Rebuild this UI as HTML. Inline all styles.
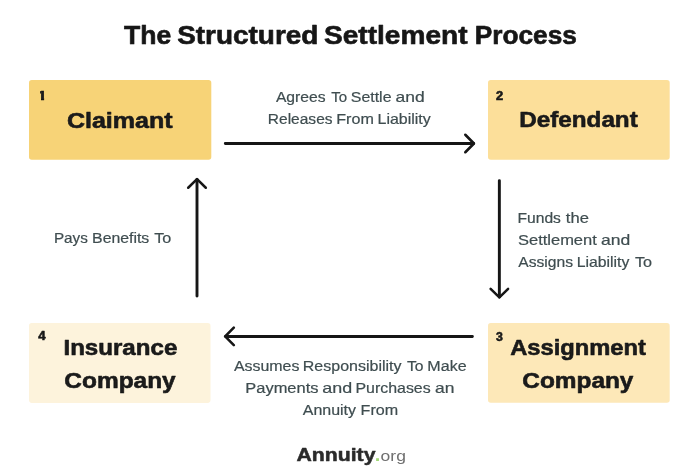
<!DOCTYPE html>
<html lang="en">
<head>
<meta charset="utf-8">
<title>The Structured Settlement Process</title>
<style>
  html, body { margin: 0; padding: 0; background: #ffffff; }
  body { width: 700px; height: 474px; overflow: hidden; }
  svg { display: block; will-change: transform; }
  text { font-family: "Liberation Sans", sans-serif; stroke-linejoin: round; }
  .title { font-weight: 700; fill: #161616; stroke: #161616; stroke-width: 0.6px; }
  .box { font-weight: 700; fill: #1a1a1a; stroke: #1a1a1a; stroke-width: 0.6px; }
  .num { font-weight: 700; fill: #1a1a1a; stroke: #1a1a1a; stroke-width: 0.6px; }
  .lbl { font-weight: 400; fill: #3f4d50; stroke: #3f4d50; stroke-width: 0.2px; }
  .logo { font-weight: 700; fill: #2b2b2b; stroke: #2b2b2b; stroke-width: 0.5px; }
  .org { font-weight: 400; fill: #6f6f6f; }
  .dot { font-weight: 700; fill: #a3d977; }
  .shaft { fill: none; stroke: #131313; stroke-width: 2.9; stroke-linecap: round; }
  .head { fill: none; stroke: #131313; stroke-width: 2.5; stroke-linecap: round; stroke-linejoin: round; }
</style>
</head>
<body>
<svg width="700" height="474" viewBox="0 0 700 474">
  <defs><filter id="soft" x="0" y="0" width="700" height="474" filterUnits="userSpaceOnUse"><feGaussianBlur stdDeviation="0.4"/></filter></defs>
  <rect width="700" height="474" fill="#ffffff"/>
  <g filter="url(#soft)">
  <!-- boxes -->
  <rect x="29" y="80" width="182.3" height="79.8" rx="2.8" fill="#f7d377"/>
  <rect x="488" y="80" width="181.7" height="79.8" rx="2.8" fill="#fcdf9a"/>
  <rect x="488" y="323.1" width="181.7" height="79.7" rx="2.8" fill="#fde8b8"/>
  <rect x="29" y="323.1" width="181.5" height="79.8" rx="2.8" fill="#fdf3dc"/>
  <!-- arrows: shafts -->
  <path class="shaft" d="M225.3 143.5 H473.6 M499.35 180.6 V297 M472.4 336.45 H225.6 M197 296 V179.5"/>
  <!-- arrows: heads -->
  <path class="head" d="M465.3 134.75 L473.95 143.5 L465.3 152.25"/>
  <path class="head" d="M490.6 288.8 L499.35 297.45 L508.1 288.8"/>
  <path class="head" d="M233.8 327.7 L225.15 336.45 L233.8 345.2"/>
  <path class="head" d="M188.2 187.75 L197 179.1 L205.8 187.75"/>
  <!-- title -->
  <g>
  <text class="title" font-size="25.1" transform="translate(124.10 43.90) scale(1.0591 1)">The</text>
  <text class="title" font-size="25.1" transform="translate(177.18 43.90) scale(1.1133 1)">Structured</text>
  <text class="title" font-size="25.1" transform="translate(323.98 43.90) scale(1.1191 1)">Settlement</text>
  <text class="title" font-size="25.1" transform="translate(474.76 43.90) scale(1.0461 1)">Process</text>
  </g>
  <!-- step 1 -->
  <clipPath id="one"><path d="M40.1 89 H44.1 V101 H41 V97.6 H40.1 Z"/></clipPath>
  <g clip-path="url(#one)"><text class="num" font-size="12.5" transform="translate(37.49 99.7) scale(1.34 1)">1</text></g>
  <text class="box" font-size="21.8" transform="translate(66.88 127.60) scale(1.1497 1)">Claimant</text>
  <g>
  <text class="lbl" font-size="14.1" transform="translate(275.90 101.90) scale(1.1141 1)">Agrees</text>
  <text class="lbl" font-size="14.1" transform="translate(331.23 101.90) scale(1.0690 1)">To</text>
  <text class="lbl" font-size="14.1" transform="translate(350.84 101.90) scale(1.1286 1)">Settle</text>
  <text class="lbl" font-size="14.1" transform="translate(395.58 101.90) scale(1.2404 1)">and</text>
  </g>
  <g>
  <text class="lbl" font-size="14.1" transform="translate(267.80 123.50) scale(1.1015 1)">Releases</text>
  <text class="lbl" font-size="14.1" transform="translate(336.26 123.50) scale(1.1438 1)">From</text>
  <text class="lbl" font-size="14.1" transform="translate(377.57 123.50) scale(1.1317 1)">Liability</text>
  </g>
  <!-- step 2 -->
  <text class="num" font-size="12.4" transform="translate(496.07 99.60) scale(1.0415 1)">2</text>
  <text class="box" font-size="21.8" transform="translate(519.25 127.30) scale(1.1118 1)">Defendant</text>
  <g>
  <text class="lbl" font-size="14.1" transform="translate(517.49 222.80) scale(1.1099 1)">Funds</text>
  <text class="lbl" font-size="14.1" transform="translate(565.85 222.80) scale(1.1737 1)">the</text>
  </g>
  <g>
  <text class="lbl" font-size="14.1" transform="translate(518.02 244.50) scale(1.1693 1)">Settlement</text>
  <text class="lbl" font-size="14.1" transform="translate(601.08 244.50) scale(1.2449 1)">and</text>
  </g>
  <g>
  <text class="lbl" font-size="14.1" transform="translate(518.30 266.60) scale(1.1102 1)">Assigns</text>
  <text class="lbl" font-size="14.1" transform="translate(576.78 266.60) scale(1.1187 1)">Liability</text>
  <text class="lbl" font-size="14.1" transform="translate(635.01 266.60) scale(1.1469 1)">To</text>
  </g>
  <!-- step 3 -->
  <text class="num" font-size="12.4" transform="translate(496.00 340.50) scale(0.9926 1)">3</text>
  <text class="box" font-size="21.8" transform="translate(510.13 355.30) scale(1.0892 1)">Assignment</text>
  <text class="box" font-size="21.8" transform="translate(522.30 388.10) scale(1.1196 1)">Company</text>
  <g>
  <text class="lbl" font-size="14.1" transform="translate(233.90 370.90) scale(1.1304 1)">Assumes</text>
  <text class="lbl" font-size="14.1" transform="translate(302.76 370.90) scale(1.1360 1)">Responsibility</text>
  <text class="lbl" font-size="14.1" transform="translate(407.02 370.90) scale(1.1115 1)">To</text>
  <text class="lbl" font-size="14.1" transform="translate(427.36 370.90) scale(1.1394 1)">Make</text>
  </g>
  <g>
  <text class="lbl" font-size="14.1" transform="translate(245.33 392.50) scale(1.1673 1)">Payments</text>
  <text class="lbl" font-size="14.1" transform="translate(322.26 392.50) scale(1.2719 1)">and</text>
  <text class="lbl" font-size="14.1" transform="translate(355.47 392.50) scale(1.1301 1)">Purchases</text>
  <text class="lbl" font-size="14.1" transform="translate(435.08 392.50) scale(1.2383 1)">an</text>
  </g>
  <g>
  <text class="lbl" font-size="14.1" transform="translate(302.80 414.50) scale(1.1332 1)">Annuity</text>
  <text class="lbl" font-size="14.1" transform="translate(360.56 414.50) scale(1.1438 1)">From</text>
  </g>
  <!-- step 4 -->
  <text class="num" font-size="12.4" transform="translate(38.23 339.90) scale(1.0621 1)">4</text>
  <text class="box" font-size="21.8" transform="translate(63.46 354.60) scale(1.1058 1)">Insurance</text>
  <text class="box" font-size="21.8" transform="translate(64.30 387.50) scale(1.1226 1)">Company</text>
  <g>
  <text class="lbl" font-size="14.1" transform="translate(53.92 242.50) scale(1.0845 1)">Pays</text>
  <text class="lbl" font-size="14.1" transform="translate(92.08 242.50) scale(1.1232 1)">Benefits</text>
  <text class="lbl" font-size="14.1" transform="translate(154.21 242.50) scale(1.1469 1)">To</text>
  </g>
  <!-- logo -->
  <g>
  <text class="logo" font-size="18.6" transform="translate(296.41 460.65) scale(1.1429 1)">Annuity</text>
  <text class="dot" font-size="18.8" transform="translate(374.87 461.20) scale(1.0667 1)">.</text>
  <text class="org" font-size="15.0" transform="translate(380.57 461.20) scale(1.1677 1)">org</text>
  </g>
  </g>
</svg>
</body>
</html>
